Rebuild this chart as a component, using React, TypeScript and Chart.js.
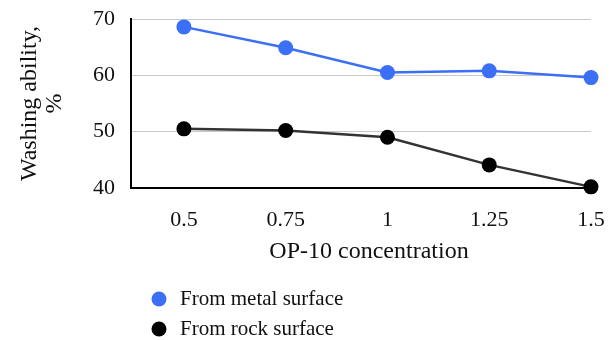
import React, { useEffect, useRef } from "react";
import { Chart, registerables } from "chart.js";

Chart.register(...registerables);

const xValues = [0.5, 0.75, 1, 1.25, 1.5];
const metalValues = [68.6, 64.9, 60.5, 60.8, 59.6];
const rockValues = [50.5, 50.2, 49.0, 44.1, 40.2];
const yTicks = [40, 50, 60, 70];
const seriesLabels = ["From metal surface", "From rock surface"];
const xTitle = "OP-10 concentration";
const yTitle = ["Washing ability,", "%"];

const BLUE = "#3a6ff6";
const BLACK = "#000000";
const FONT = "'Liberation Serif', 'Times New Roman', serif";

export default function App() {
  const ref = useRef<HTMLCanvasElement | null>(null);

  useEffect(() => {
    if (!ref.current) return;
    const extrasPlugin = {
      id: "extras",
      afterDraw(chart: any) {
        const ctx = chart.ctx;
        ctx.save();
        // x axis title
        ctx.fillStyle = "#111";
        ctx.font = `24px ${FONT}`;
        ctx.textBaseline = "middle";
        ctx.textAlign = "center";
        ctx.fillText(xTitle, 369, 252);
        // stacked legend
        const items = [
          { label: seriesLabels[0], color: BLUE, y: 299 },
          { label: seriesLabels[1], color: BLACK, y: 329 },
        ];
        for (const it of items) {
          ctx.beginPath();
          ctx.fillStyle = it.color;
          ctx.arc(159, it.y, 7.5, 0, Math.PI * 2);
          ctx.fill();
          ctx.fillStyle = "#111";
          ctx.font = `21px ${FONT}`;
          ctx.textBaseline = "middle";
          ctx.textAlign = "left";
          ctx.fillText(it.label, 180, it.y);
        }
        ctx.restore();
      },
    };

    const chart = new Chart(ref.current, {
      type: "line",
      data: {
        datasets: [
          {
            label: seriesLabels[0],
            data: xValues.map((x, i) => ({ x, y: metalValues[i] })),
            borderColor: BLUE,
            backgroundColor: BLUE,
            pointBackgroundColor: BLUE,
            pointBorderColor: BLUE,
            borderWidth: 2.5,
            pointRadius: 7.5,
            pointBorderWidth: 0,
            clip: false as any,
          },
          {
            label: seriesLabels[1],
            data: xValues.map((x, i) => ({ x, y: rockValues[i] })),
            borderColor: "#333333",
            backgroundColor: BLACK,
            pointBackgroundColor: BLACK,
            pointBorderColor: BLACK,
            borderWidth: 2.5,
            pointRadius: 7.5,
            pointBorderWidth: 0,
            clip: false as any,
          },
        ],
      },
      options: {
        animation: false,
        responsive: false,
        maintainAspectRatio: false,
        layout: { padding: { left: 0, top: 19, right: 24, bottom: 0 } },
        plugins: {
          legend: { display: false },
          tooltip: { enabled: false },
        },
        scales: {
          x: {
            type: "linear",
            min: 0.37,
            max: 1.5,
            afterBuildTicks: (scale: any) => {
              scale.ticks = xValues.map((v) => ({ value: v }));
            },
            afterFit: (scale: any) => {
              scale.height = 152;
              scale.paddingLeft = 0;
              scale.paddingRight = 0;
            },
            grid: { display: false },
            border: { display: true, color: "#000", width: 2 },
            ticks: {
              autoSkip: false,
              maxRotation: 0,
              padding: 11,
              color: "#111",
              font: { family: FONT, size: 22 },
              callback: (v: any) => String(v),
            },
            title: { display: false },
          },
          y: {
            min: 40,
            max: 70,
            afterBuildTicks: (scale: any) => {
              scale.ticks = yTicks.map((v) => ({ value: v }));
            },
            afterFit: (scale: any) => {
              scale.width = 131;
              scale.paddingTop = 0;
              scale.paddingBottom = 0;
            },
            grid: { color: "#c8c8c8", lineWidth: 1, drawTicks: false },
            border: { display: true, color: "#000", width: 2 },
            ticks: {
              padding: 16,
              color: "#111",
              font: { family: FONT, size: 22 },
            },
            title: {
              display: true,
              text: yTitle,
              color: "#111",
              font: { family: FONT, size: 24, lineHeight: 1.05 },
              padding: { top: 17, bottom: 0 },
            },
          },
        },
      },
      plugins: [extrasPlugin],
    });
    return () => chart.destroy();
  }, []);

  return (
    <div style={{ position: "absolute", left: 0, top: 0, width: 615, height: 340, background: "#fff" }}>
      <canvas ref={ref} width={615} height={340} style={{ width: 615, height: 340 }} />
    </div>
  );
}
